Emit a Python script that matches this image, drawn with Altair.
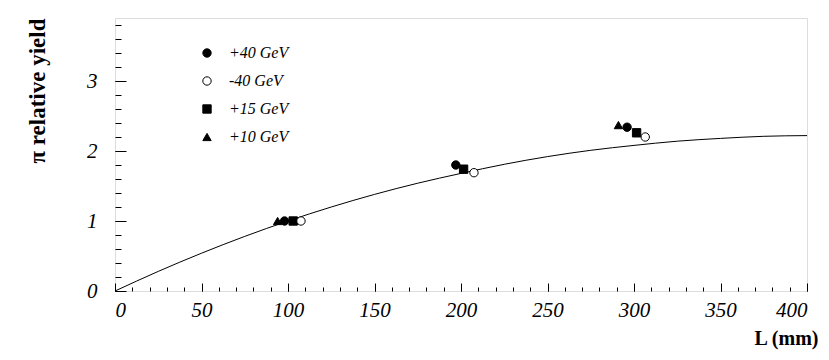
import altair as alt
import pandas as pd

# fitted curve
curve_L = [0, 25, 50, 75, 100, 125, 150, 175, 200, 225, 250, 275, 300, 325, 350, 375, 400]
curve_y = [0.0, 0.28, 0.54, 0.78, 1.0, 1.2, 1.38, 1.54, 1.68, 1.81, 1.92, 2.01, 2.08, 2.14, 2.18, 2.21, 2.22]

# measured points
pt_series = ["+10 GeV", "+40 GeV", "+15 GeV", "-40 GeV",
             "+40 GeV", "+15 GeV", "-40 GeV",
             "+10 GeV", "+40 GeV", "+15 GeV", "-40 GeV"]
pt_L = [94, 98, 103, 107.5,
        197, 201.5, 207.5,
        291, 296, 301.5, 306.5]
pt_y = [1.0, 1.0, 1.0, 1.0,
        1.8, 1.74, 1.69,
        2.37, 2.34, 2.26, 2.2]

series_order = ["+40 GeV", "-40 GeV", "+15 GeV", "+10 GeV"]
series_shapes = ["circle", "circle", "square", "triangle-up"]
series_fills = ["black", "white", "black", "black"]
series_strokes = ["black", "black", "black", "black"]

x_major = [0, 50, 100, 150, 200, 250, 300, 350, 400]
x_minor = [0, 10, 20, 30, 40, 50, 60, 70, 80, 90, 100, 110, 120, 130, 140, 150, 160, 170, 180, 190,
           200, 210, 220, 230, 240, 250, 260, 270, 280, 290, 300, 310, 320, 330, 340, 350, 360, 370, 380, 390, 400]
y_major = [0, 1, 2, 3]
y_minor = [0, 0.2, 0.4, 0.6, 0.8, 1, 1.2, 1.4, 1.6, 1.8, 2, 2.2, 2.4, 2.6, 2.8, 3, 3.2, 3.4, 3.6, 3.8]

W, H = 692, 273
SERIF = "Liberation Serif"

curve_df = pd.DataFrame({"L": curve_L, "yield": curve_y})
pt_df = pd.DataFrame({"series": pt_series, "L": pt_L, "yield": pt_y})

xscale = alt.Scale(domain=[0, 400], nice=False, zero=False)
yscale = alt.Scale(domain=[0, 3.9], nice=False, zero=False)

curve = alt.Chart(curve_df).mark_line(color="black", strokeWidth=1, interpolate="monotone").encode(
    x=alt.X("L:Q", scale=xscale,
            axis=alt.Axis(orient="bottom", values=x_major, ticks=False, domain=False, grid=False,
                          labelFont=SERIF, labelFontStyle="italic", labelFontSize=21, labelColor="black",
                          labelPadding=8, title="L (mm)", titleFont=SERIF, titleFontWeight="bold",
                          titleFontSize=20, titleColor="black", titleAnchor="end", titleAlign="right",
                          titleX=W + 11, titlePadding=8)),
    y=alt.Y("yield:Q", scale=yscale,
            axis=alt.Axis(orient="left", values=y_major, ticks=False, domain=False, grid=False,
                          labelFont=SERIF, labelFontStyle="italic", labelFontSize=21, labelColor="black",
                          labelPadding=18, title="π relative yield", titleFont=SERIF, titleFontWeight="bold",
                          titleFontSize=23, titleColor="black", titleAnchor="end", titlePadding=37)),
)

leg = dict(orient="none", legendX=84, legendY=27, title=None, labelFont=SERIF, labelFontStyle="italic",
           labelFontSize=16, labelColor="black", labelOffset=14, rowPadding=12, symbolSize=70,
           symbolStrokeColor="black", symbolStrokeWidth=1)

points = alt.Chart(pt_df).mark_point(size=70, filled=True, strokeWidth=1, opacity=1).encode(
    x=alt.X("L:Q", scale=xscale,
            axis=alt.Axis(orient="top", offset=-H, values=x_major, tickSize=8, tickColor="black",
                          labels=False, domain=False, grid=False, title=None)),
    y=alt.Y("yield:Q", scale=yscale,
            axis=alt.Axis(orient="right", offset=-W, values=y_major, tickSize=11, tickColor="black",
                          labels=False, domain=False, grid=False, title=None)),
    shape=alt.Shape("series:N", scale=alt.Scale(domain=series_order, range=series_shapes), legend=alt.Legend(**leg)),
    fill=alt.Fill("series:N", scale=alt.Scale(domain=series_order, range=series_fills), legend=alt.Legend(**leg)),
    stroke=alt.Stroke("series:N", scale=alt.Scale(domain=series_order, range=series_strokes), legend=alt.Legend(**leg)),
)

minor = alt.Chart(curve_df).mark_line(strokeOpacity=0).encode(
    x=alt.X("L:Q", scale=xscale,
            axis=alt.Axis(orient="top", offset=-H, values=x_minor, tickSize=4, tickColor="black",
                          labels=False, domain=False, grid=False, title=None)),
    y=alt.Y("yield:Q", scale=yscale,
            axis=alt.Axis(orient="right", offset=-W, values=y_minor, tickSize=6, tickColor="black",
                          labels=False, domain=False, grid=False, title=None)),
)

chart = alt.layer(curve, minor, points).resolve_axis(x="independent", y="independent").properties(
    width=W, height=H,
    autosize=alt.AutoSizeParams(type="none"),
    padding={"left": 107, "top": 10, "right": 14, "bottom": 60},
).configure_view(stroke="black", strokeWidth=1.2).configure(background="white")

chart.save("out.html", embed_options={"renderer": "svg", "actions": False})
